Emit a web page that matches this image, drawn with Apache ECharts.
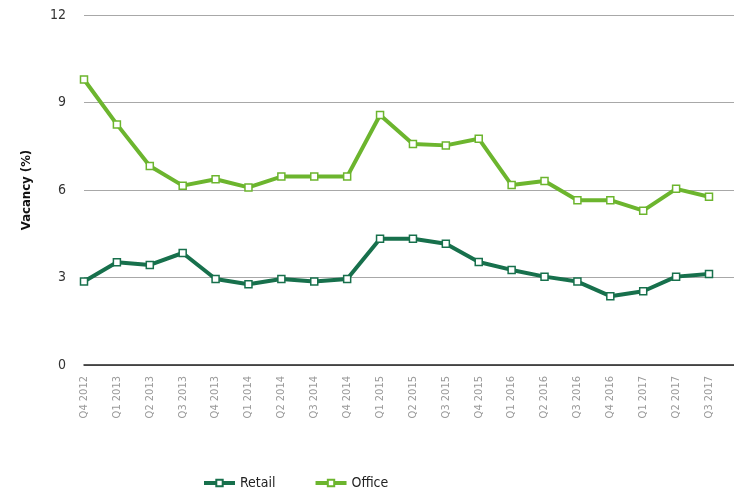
<!DOCTYPE html>
<html>
<head>
<meta charset="utf-8">
<script src="https://cdn.jsdelivr.net/npm/echarts@6/dist/echarts.min.js"></script>
<style>
html,body{margin:0;padding:0;background:#fff;}
#chart{width:734px;height:492px;}
</style>
</head>
<body>
<div id="chart"></div>
<script>
var categories = ["Q4 2012","Q1 2013","Q2 2013","Q3 2013","Q4 2013","Q1 2014","Q2 2014","Q3 2014","Q4 2014","Q1 2015","Q2 2015","Q3 2015","Q4 2015","Q1 2016","Q2 2016","Q3 2016","Q4 2016","Q1 2017","Q2 2017","Q3 2017"];
var retail = [2.86,3.52,3.43,3.84,2.95,2.77,2.95,2.86,2.95,4.33,4.33,4.16,3.53,3.26,3.03,2.86,2.36,2.53,3.03,3.12];
var office = [9.79,8.25,6.82,6.15,6.37,6.09,6.46,6.46,6.46,8.57,7.58,7.53,7.76,6.17,6.31,5.65,5.65,5.29,6.04,5.77];
var yTicks = [0,3,6,9,12];
var seriesNames = ["Retail","Office"];
var colors = ["#17704c","#6cb52e"];

var FONT = '"DejaVu Sans Condensed","Liberation Sans Narrow","DejaVu Sans",sans-serif';

function pairs(arr){ return arr.map(function(v,i){ return [i,v]; }); }

var chart = echarts.init(document.getElementById('chart'));
var series = [retail, office].map(function(arr, k){
  return {
    name: seriesNames[k],
    type: 'line',
    data: pairs(arr),
    symbol: 'rect',
    symbolSize: 7,
    showAllSymbol: true,
    lineStyle: { color: colors[k], width: 4 },
    itemStyle: { color: '#ffffff', borderColor: colors[k], borderWidth: 1.5 },
    emphasis: { disabled: true },
    z: 3 + k
  };
});

chart.setOption({
  animation: false,
  backgroundColor: '#ffffff',
  grid: { left: 84, right: 0, top: 15, bottom: 127, containLabel: false },
  legend: {
    data: seriesNames,
    left: 197,
    top: 471,
    itemWidth: 31,
    itemHeight: 8,
    itemGap: 38,
    lineStyle: { width: 4 },
    textStyle: { fontFamily: FONT, fontSize: 14, color: '#222' }
  },
  xAxis: {
    type: 'value',
    min: 0,
    max: 19.76,
    interval: 1,
    axisLine: { show: true, lineStyle: { color: '#222', width: 1.5 } },
    axisTick: { show: false },
    splitLine: { show: false },
    axisLabel: {
      rotate: 90,
      margin: 11,
      showMaxLabel: false,
      fontFamily: FONT,
      fontSize: 11,
      color: '#9a9a9a',
      formatter: function(v){ return (Number.isInteger(v) && categories[v]) ? categories[v] : ''; }
    }
  },
  yAxis: {
    type: 'value',
    min: yTicks[0],
    max: yTicks[yTicks.length-1],
    interval: 3,
    name: 'Vacancy (%)',
    nameLocation: 'middle',
    nameGap: 51,
    nameRotate: 90,
    nameTextStyle: { fontFamily: FONT, fontSize: 13, fontWeight: 'bold', color: '#111' },
    axisLine: { show: false },
    axisTick: { show: false },
    splitLine: { lineStyle: { color: '#a8a8a8', width: 1 } },
    axisLabel: { margin: 18, fontFamily: FONT, fontSize: 14, color: '#333' }
  },
  series: series
});
</script>
</body>
</html>
